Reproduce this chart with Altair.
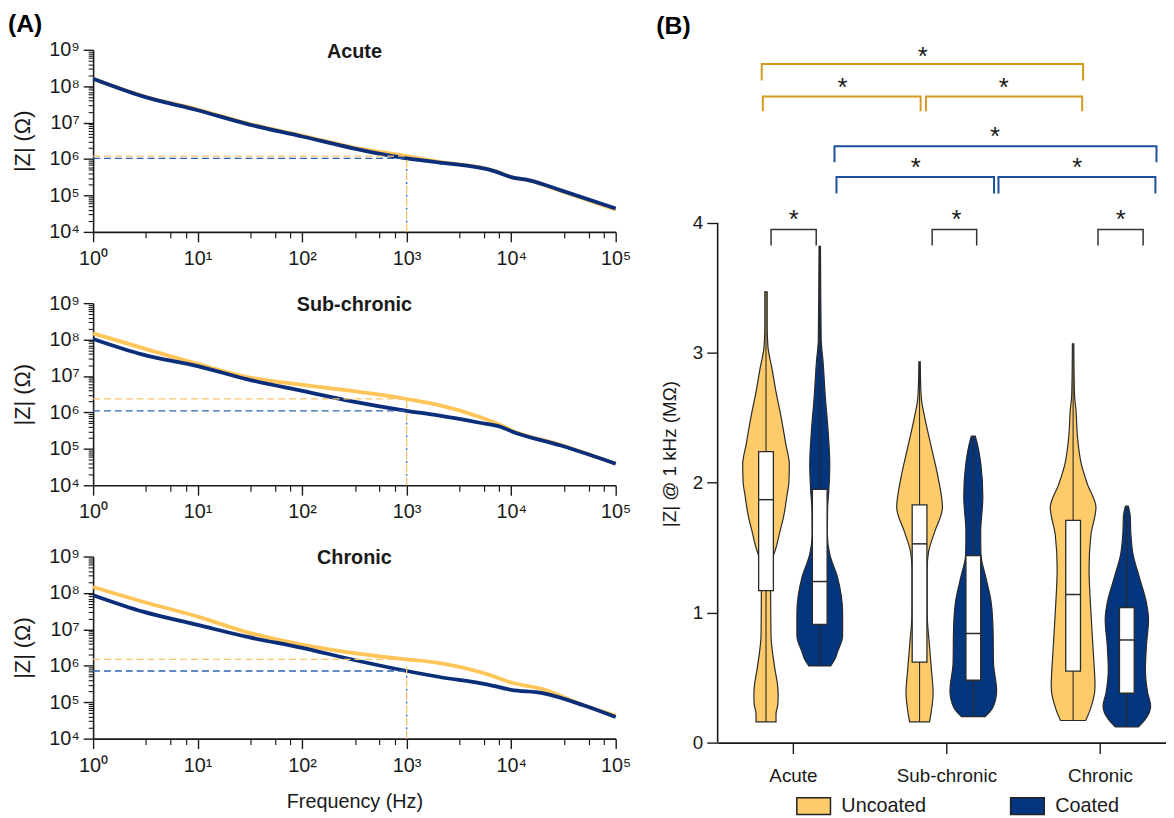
import altair as alt
import pandas as pd

FONT = "Liberation Sans"
INK = "#1a1a1a"
CONDITIONS = ["Uncoated", "Coated"]
GROUPS = ["Acute", "Sub-chronic", "Chronic"]

GOLD_LINE = "#FFC559"
NAVY_LINE = "#0B2E7A"
DASH_GOLD = "#F8C46C"
DASH_BLUE = "#2D62AE"
GOLD_FILL = "#FECB6B"
NAVY_FILL = "#04357F"
BR_GOLD = "#D39B1E"
BR_BLUE = "#1D4FA0"
BR_BLACK = "#333333"

# ---------------- (A) impedance spectra, |Z| in ohm ----------------
freq_acute = [1, 3, 10, 30, 100, 300, 1000, 2000, 7000, 10000, 15000, 30000, 100000]
z_acute_uncoated = [1.60e8, 5.4e7, 2.3e7, 9.5e6, 4.4e6, 2.14e6, 1.2e6, 8.5e5, 4.7e5, 3.2e5, 2.55e5, 1.32e5, 4.1e4]
z_acute_coated = [1.60e8, 5.25e7, 2.19e7, 9.1e6, 4.17e6, 2.0e6, 1.04e6, 8.1e5, 4.6e5, 3.2e5, 2.6e5, 1.38e5, 4.4e4]

freq_sub = [1, 3, 10, 30, 100, 300, 1000, 2000, 5000, 8000, 10000, 30000, 100000]
z_sub_uncoated = [1.48e8, 5.83e7, 2.15e7, 9.4e6, 5.7e6, 3.9e6, 2.34e6, 1.61e6, 7.5e5, 4.47e5, 3.27e5, 1.28e5, 3.9e4]
z_sub_coated = [1.04e8, 3.85e7, 1.86e7, 8.1e6, 3.9e6, 2.02e6, 1.11e6, 8.3e5, 5.2e5, 4.0e5, 3.06e5, 1.23e5, 3.9e4]

freq_chronic = [1, 3, 10, 30, 100, 300, 1000, 2000, 6000, 10000, 20000, 50000, 100000]
z_chronic_uncoated = [1.47e8, 5.74e7, 2.24e7, 8.3e6, 3.8e6, 2.26e6, 1.5e6, 1.21e6, 5.8e5, 3.47e5, 2.29e5, 8.1e4, 4.3e4]
z_chronic_coated = [8.7e7, 3.07e7, 1.33e7, 6.2e6, 3.1e6, 1.49e6, 7.2e5, 5.0e5, 3.05e5, 2.19e5, 1.78e5, 8.1e4, 3.9e4]

z1k_uncoated = [1.2e6, 2.34e6, 1.5e6]
z1k_coated = [1.04e6, 1.11e6, 7.2e5]

x_decades = [1, 10, 100, 1000, 10000, 100000]
x_minor_mult = [3.2, 5.5, 7.7]
y_decades = [1e4, 1e5, 1e6, 1e7, 1e8, 1e9]
y_minor_mult = [2, 3, 4, 5, 6, 7, 8, 9]

# ---------------- (B) |Z| @ 1 kHz violins (MΩ) ----------------
# y positions and relative half-widths of each violin outline
vio_unc_acute_y = [0.16, 0.22, 0.30, 0.38, 0.45, 0.56, 0.70, 0.82, 1.00, 1.30, 1.40, 1.50, 1.62, 1.75, 1.90, 2.00, 2.14, 2.30, 2.51, 2.70, 2.88, 3.05, 3.20, 3.47]
vio_unc_acute_w = [0.42, 0.42, 0.50, 0.51, 0.48, 0.38, 0.27, 0.21, 0.20, 0.19, 0.25, 0.42, 0.58, 0.75, 0.88, 0.96, 0.98, 0.83, 0.63, 0.42, 0.25, 0.08, 0.05, 0.05]
vio_coat_acute_y = [0.59, 0.64, 0.70, 0.82, 1.00, 1.27, 1.45, 1.60, 1.80, 1.94, 2.14, 2.40, 2.67, 2.93, 3.10, 3.50, 3.82]
vio_coat_acute_w = [0.46, 0.63, 0.75, 0.96, 0.96, 0.75, 0.42, 0.32, 0.33, 0.38, 0.42, 0.35, 0.23, 0.14, 0.06, 0.04, 0.03]
vio_unc_sub_y = [0.16, 0.25, 0.38, 0.56, 0.74, 1.00, 1.34, 1.47, 1.62, 1.81, 2.04, 2.27, 2.51, 2.64, 2.80, 2.93]
vio_unc_sub_w = [0.42, 0.50, 0.57, 0.50, 0.42, 0.32, 0.32, 0.38, 0.63, 0.96, 0.78, 0.50, 0.21, 0.08, 0.04, 0.03]
vio_coat_sub_y = [0.20, 0.27, 0.40, 0.61, 0.87, 1.08, 1.27, 1.45, 1.62, 1.89, 2.14, 2.30, 2.36]
vio_coat_sub_w = [0.50, 0.82, 0.98, 0.85, 0.83, 0.75, 0.53, 0.32, 0.31, 0.40, 0.32, 0.17, 0.08]
vio_unc_chronic_y = [0.17, 0.25, 0.43, 0.69, 1.00, 1.34, 1.60, 1.81, 1.99, 2.14, 2.36, 2.56, 2.67, 2.85, 3.07]
vio_unc_chronic_w = [0.53, 0.71, 0.92, 0.85, 0.75, 0.67, 0.75, 0.96, 0.60, 0.35, 0.18, 0.12, 0.06, 0.04, 0.03]
vio_coat_chronic_y = [0.12, 0.18, 0.28, 0.38, 0.56, 0.74, 0.95, 1.08, 1.27, 1.45, 1.60, 1.75, 1.82]
vio_coat_chronic_w = [0.48, 0.78, 1.00, 0.88, 0.78, 0.82, 0.91, 0.82, 0.53, 0.26, 0.17, 0.14, 0.06]

box_q1_uncoated = [1.17, 0.62, 0.55]
box_med_uncoated = [1.87, 1.53, 1.14]
box_q3_uncoated = [2.24, 1.83, 1.71]
box_q1_coated = [0.91, 0.48, 0.38]
box_med_coated = [1.24, 0.84, 0.79]
box_q3_coated = [1.95, 1.44, 1.04]

y_ticks_b = [0, 1, 2, 3, 4]

# significance brackets (x in category units, y in MΩ)
br_x1 = [-0.203, -0.196, 0.867, 0.271, 0.284, 1.339, -0.142, 0.907, 1.987]
br_x2 = [1.890, 0.832, 1.884, 2.368, 1.310, 2.361, 0.152, 1.197, 2.281]
br_top = [5.223, 4.974, 4.974, 4.590, 4.354, 4.354, 3.949, 3.949, 3.949]
br_bot = [5.097, 4.859, 4.859, 4.467, 4.226, 4.226, 3.826, 3.826, 3.826]
br_col = [BR_GOLD, BR_GOLD, BR_GOLD, BR_BLUE, BR_BLUE, BR_BLUE, BR_BLACK, BR_BLACK, BR_BLACK]
br_w = [2.0, 2.0, 2.0, 2.0, 2.0, 2.0, 1.5, 1.5, 1.5]
star_x = [0.845, 0.323, 1.374, 1.316, 0.800, 1.852, 0.006, 1.065, 2.135]
star_y = [5.333, 5.090, 5.090, 4.718, 4.474, 4.474, 4.077, 4.077, 4.077]

SUP_EXPR = ("'10' + ['\u2070','\u00b9','\u00b2','\u00b3','\u2074','\u2075','\u2076',"
            "'\u2077','\u2078','\u2079'][round(log(datum.value) / LN10)]")

PW, PH = 528, 184


def spectrum_panel(name, freq, z_unc, z_coat, z1k_unc, z1k_coat, tag=None, xtitle=None):
    n = len(freq)
    curves = pd.DataFrame({"freq": freq + freq, "z": z_unc + z_coat,
                           "cond": ["Uncoated"] * n + ["Coated"] * n})
    guides = pd.DataFrame({"cond": CONDITIONS, "z1k": [z1k_unc, z1k_coat],
                           "f_lo": [x_decades[0]] * 2, "f_1k": [1000] * 2,
                           "z_lo": [y_decades[0]] * 2,
                           "col": [DASH_GOLD, DASH_BLUE]})
    xs = alt.Scale(type="log", domain=[x_decades[0], x_decades[-1]], nice=False)
    ys = alt.Scale(type="log", domain=[y_decades[0], y_decades[-1]], nice=False)
    if xtitle:
        xkw = dict(title=xtitle, titleFontSize=20, titleFontWeight="normal",
                   titlePadding=17, titleColor=INK)
    else:
        xkw = dict(title=None)
    major_x = alt.Axis(orient="bottom", values=x_decades, labelExpr=SUP_EXPR, tickSize=10,
                       tickWidth=1.4, tickColor=INK, domainColor=INK, domainWidth=1.6,
                       labelFontSize=20, labelColor=INK, labelPadding=7, labelFlush=False,
                       labelOverlap=False, grid=False, **xkw)
    major_y = alt.Axis(orient="left", values=y_decades, labelExpr=SUP_EXPR, tickSize=10,
                       tickWidth=1.4, tickColor=INK, domainColor=INK, domainWidth=1.6,
                       labelFontSize=20, labelColor=INK, labelPadding=4, labelOverlap=False,
                       grid=False, title="|Z| (\u03a9)", titleFontSize=22,
                       titleFontWeight="normal", titlePadding=14, titleColor=INK)
    minor_x = alt.Axis(orient="bottom",
                       values=[m * d for d in x_decades[:-1] for m in x_minor_mult],
                       labels=False, domain=False, tickSize=6, tickWidth=1.2,
                       tickColor=INK, grid=False, title=None)
    minor_y = alt.Axis(orient="left",
                       values=[m * d for d in y_decades[:-1] for m in y_minor_mult],
                       labels=False, domain=False, tickSize=5, tickWidth=1.1,
                       tickColor=INK, grid=False, title=None)
    col = alt.Stroke("cond:N", scale=alt.Scale(domain=CONDITIONS, range=[GOLD_LINE, NAVY_LINE]),
                     legend=None)
    base = alt.Chart(curves)
    unc = base.transform_filter(alt.datum.cond == "Uncoated").mark_line(
        strokeWidth=3.8, interpolate="monotone").encode(
        x=alt.X("freq:Q", scale=xs, axis=major_x),
        y=alt.Y("z:Q", scale=ys, axis=major_y), stroke=col)
    coat = base.transform_filter(alt.datum.cond == "Coated").mark_line(
        strokeWidth=3.8, interpolate="monotone").encode(
        x=alt.X("freq:Q", scale=xs, axis=None),
        y=alt.Y("z:Q", scale=ys, axis=None), stroke=col)
    gbase = alt.Chart(guides)
    hdash = gbase.mark_rule(strokeDash=[7, 4], strokeWidth=1.3).encode(
        x=alt.X("f_lo:Q", scale=xs, axis=minor_x), x2="f_1k:Q",
        y=alt.Y("z1k:Q", scale=ys, axis=minor_y),
        color=alt.Color("col:N", scale=None))
    vunc = gbase.transform_filter(alt.datum.cond == "Uncoated").mark_rule(
        strokeDash=[8, 5], strokeWidth=1.3).encode(
        x=alt.X("f_1k:Q", scale=xs, axis=None),
        y=alt.Y("z_lo:Q", scale=ys, axis=None), y2="z1k:Q",
        color=alt.Color("col:N", scale=None))
    vcoat = gbase.transform_filter(alt.datum.cond == "Coated").mark_rule(
        strokeDash=[2, 11], strokeDashOffset=3.5, strokeWidth=1.3).encode(
        x=alt.X("f_1k:Q", scale=xs, axis=None),
        y=alt.Y("z_lo:Q", scale=ys, axis=None), y2="z1k:Q",
        color=alt.Color("col:N", scale=None))
    title_txt = alt.Chart(pd.DataFrame({"t": [name]})).mark_text(
        fontSize=20, fontWeight="bold", baseline="middle", dy=2, color=INK).encode(
        text="t:N", x=alt.value(PW / 2), y=alt.value(0))
    layers = [unc, coat, hdash, vunc, vcoat, title_txt]
    if tag:
        layers.append(alt.Chart(pd.DataFrame({"t": [tag]})).mark_text(
            fontSize=25, fontWeight="bold", align="left", baseline="top", color="#000").encode(
            text="t:N", x=alt.value(-86), y=alt.value(-38)))
    return alt.layer(*layers).resolve_axis(x="independent", y="independent").properties(
        width=PW, height=PH)


acute = spectrum_panel("Acute", freq_acute, z_acute_uncoated, z_acute_coated,
                       z1k_uncoated[0], z1k_coated[0], tag="(A)")
sub = spectrum_panel("Sub-chronic", freq_sub, z_sub_uncoated, z_sub_coated,
                     z1k_uncoated[1], z1k_coated[1])
chronic = spectrum_panel("Chronic", freq_chronic, z_chronic_uncoated, z_chronic_coated,
                         z1k_uncoated[2], z1k_coated[2], xtitle="Frequency (Hz)")

# ---------------- (B) ----------------
OFFSET = 0.175
HALF_MAX = 0.155
BOX_HALF = 0.048

profiles = [
    ("Uncoated", 0, vio_unc_acute_y, vio_unc_acute_w),
    ("Coated", 0, vio_coat_acute_y, vio_coat_acute_w),
    ("Uncoated", 1, vio_unc_sub_y, vio_unc_sub_w),
    ("Coated", 1, vio_coat_sub_y, vio_coat_sub_w),
    ("Uncoated", 2, vio_unc_chronic_y, vio_unc_chronic_w),
    ("Coated", 2, vio_coat_chronic_y, vio_coat_chronic_w),
]
vrows, crows = [], []
for cond, gi, yv, wv in profiles:
    c = gi + (-OFFSET if cond == "Uncoated" else OFFSET)
    for y, w in zip(yv, wv):
        vrows.append({"vid": f"{cond}-{gi}", "cond": cond, "y": y,
                      "xl": c - w * HALF_MAX, "xr": c + w * HALF_MAX})
    crows.append({"cond": cond, "c": c, "ymin": min(yv), "ymax": max(yv)})
vdf = pd.DataFrame(vrows)
cdf = pd.DataFrame(crows)

brows = []
for gi in range(3):
    for cond, q1, md, q3 in (("Uncoated", box_q1_uncoated, box_med_uncoated, box_q3_uncoated),
                             ("Coated", box_q1_coated, box_med_coated, box_q3_coated)):
        c = gi + (-OFFSET if cond == "Uncoated" else OFFSET)
        brows.append({"cond": cond, "bl": c - BOX_HALF, "br": c + BOX_HALF,
                      "q1": q1[gi], "med": md[gi], "q3": q3[gi]})
bdf = pd.DataFrame(brows)

lrows = []
for i in range(len(br_x1)):
    pts = [(br_x1[i], br_bot[i]), (br_x1[i], br_top[i]), (br_x2[i], br_top[i]), (br_x2[i], br_bot[i])]
    for k, (x, y) in enumerate(pts):
        lrows.append({"bid": i, "k": k, "x": x, "y": y, "col": br_col[i], "w": br_w[i]})
ldf = pd.DataFrame(lrows)
sdf = pd.DataFrame({"x": star_x, "y": star_y})

BW, BH = 453, 700
xsB = alt.Scale(domain=[-0.49, 2.43], nice=False, zero=False)
ysB = alt.Scale(domain=[0, 5.333], nice=False, zero=False)

x_axis_b = alt.Axis(values=[0, 1, 2], labelExpr=f"{GROUPS}[datum.value]", tickSize=11,
                    tickWidth=1.4, tickColor=INK, domainColor=INK, domainWidth=1.6,
                    labelFontSize=19, labelColor=INK, labelPadding=13, labelFlush=False,
                    grid=False, title=None)
y_axis_b = alt.Axis(values=y_ticks_b, format="d", domain=False, tickSize=11, tickWidth=1.4,
                    tickColor=INK, labelFontSize=19, labelColor=INK, labelPadding=4, grid=False,
                    title="|Z| @ 1 kHz (M\u03a9)", titleFontSize=19, titleFontWeight="normal",
                    titleColor=INK, titleX=-39, titleY=408)
legend_b = alt.Legend(orient="none", legendX=79, legendY=746, direction="horizontal", title=None,
                      symbolType="M-1,-0.5H1V0.5H-1Z", symbolSize=1156,
                      symbolStrokeColor="#222222", symbolStrokeWidth=1.5, symbolOpacity=1,
                      labelFontSize=20, labelColor=INK, labelOffset=10, columnPadding=82,
                      padding=0, labelLimit=300)

violins = alt.Chart(vdf).mark_area(orient="horizontal", stroke="#2a2a2a", strokeWidth=1.2,
                                   interpolate="monotone", opacity=1).encode(
    y=alt.Y("y:Q", scale=ysB, axis=y_axis_b),
    x=alt.X("xl:Q", scale=xsB, axis=x_axis_b), x2="xr:Q",
    fill=alt.Fill("cond:N", scale=alt.Scale(domain=CONDITIONS, range=[GOLD_FILL, NAVY_FILL]),
                  legend=legend_b),
    detail="vid:N")
centre = alt.Chart(cdf).mark_rule(color="#2a2a2a", strokeWidth=1.1).encode(
    x=alt.X("c:Q", scale=xsB), y=alt.Y("ymin:Q", scale=ysB), y2="ymax:Q")
boxes = alt.Chart(bdf).mark_rect(fill="white", stroke="#2a2a2a", strokeWidth=1.3).encode(
    x=alt.X("bl:Q", scale=xsB), x2="br:Q", y=alt.Y("q1:Q", scale=ysB), y2="q3:Q")
medians = alt.Chart(bdf).mark_rule(color="#2a2a2a", strokeWidth=1.5).encode(
    x=alt.X("bl:Q", scale=xsB), x2="br:Q", y=alt.Y("med:Q", scale=ysB))
brackets = alt.Chart(ldf).mark_line(strokeCap="butt").encode(
    x=alt.X("x:Q", scale=xsB), y=alt.Y("y:Q", scale=ysB),
    detail="bid:N", order=alt.Order("k:Q"),
    color=alt.Color("col:N", scale=None),
    strokeWidth=alt.StrokeWidth("w:Q", scale=None))
stars = alt.Chart(sdf).mark_text(text="*", fontSize=26, baseline="middle", dy=7, color=INK).encode(
    x=alt.X("x:Q", scale=xsB), y=alt.Y("y:Q", scale=ysB))
yline = alt.Chart(pd.DataFrame({"y0": [y_ticks_b[0]], "y1": [y_ticks_b[-1]]})).mark_rule(
    color=INK, strokeWidth=1.6).encode(x=alt.value(0), y=alt.Y("y0:Q", scale=ysB), y2="y1:Q")
tag_b = alt.Chart(pd.DataFrame({"t": ["(B)"]})).mark_text(
    fontSize=25, fontWeight="bold", align="left", baseline="middle", color="#000").encode(
    text="t:N", x=alt.value(-62), y=alt.value(-24))

right = alt.layer(violins, centre, boxes, medians, brackets, stars, yline, tag_b).properties(
    width=BW, height=BH)

left = alt.vconcat(acute, sub, chronic, spacing=25)
chart = alt.hconcat(left, right, spacing=25).resolve_scale(
    fill="independent", stroke="independent", color="independent"
).properties(
    padding={"left": 0, "top": 0, "right": 0, "bottom": 0}
).configure(font=FONT).configure_view(stroke=None)

chart.save("out.html", embed_options={"renderer": "svg", "actions": False})
